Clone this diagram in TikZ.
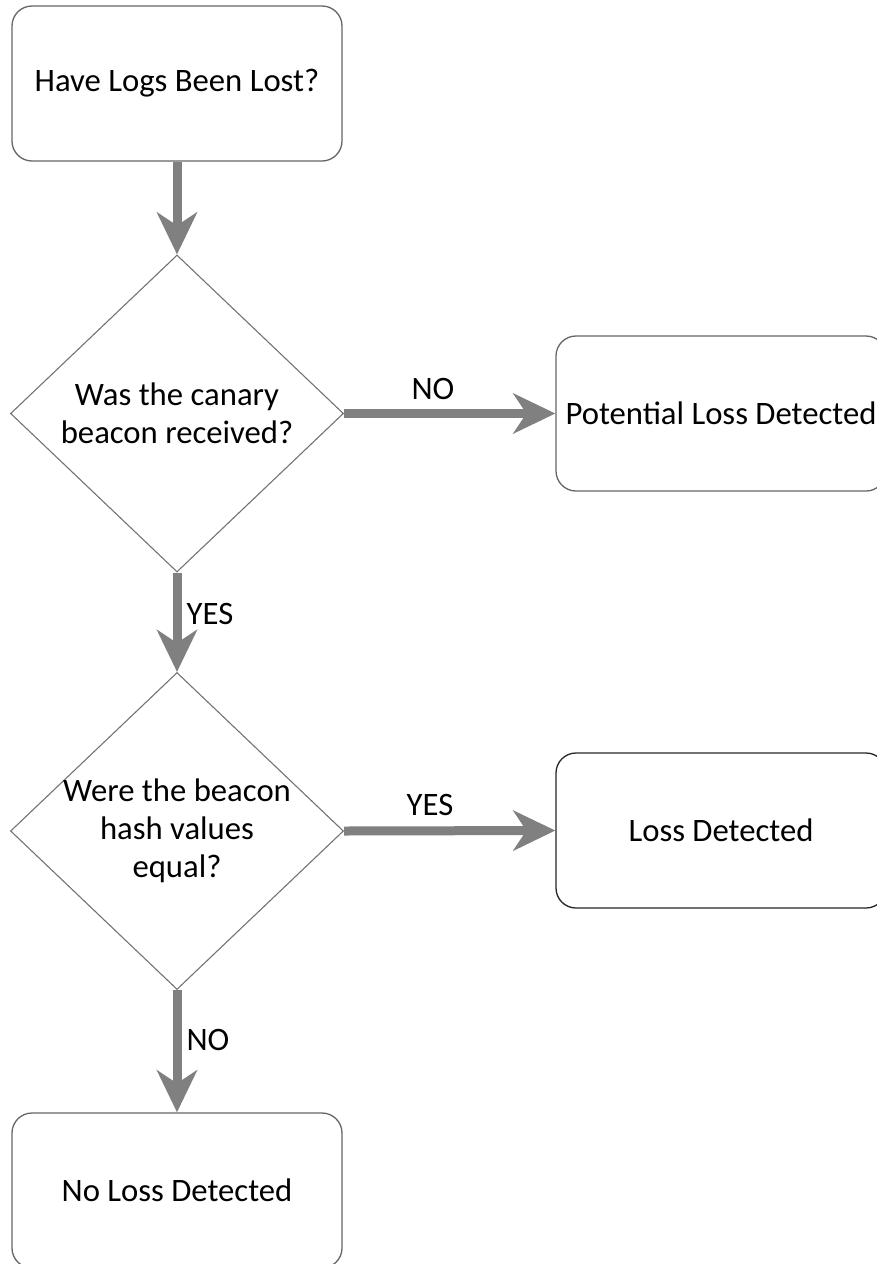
\documentclass[tikz,border=0pt]{standalone}
\usepackage{fontspec}
\setmainfont{Carlito}
\usetikzlibrary{arrows.meta,shapes.geometric}
\begin{document}
\begin{tikzpicture}[x=1pt,y=-1pt,
  every node/.style={font=\fontsize{32.7}{38}\selectfont},
  rbox/.style={draw=black!60,line width=1.3pt,rounded corners=20pt,minimum width=330pt,minimum height=155pt,inner sep=0pt,fill=white},
  dbox/.style={draw=black!55,line width=1.1pt,diamond,minimum width=333pt,minimum height=317pt,inner sep=0pt},
  dtext/.style={align=center,inner sep=0pt},
  flow/.style={draw=black!50,line width=9pt,-{Stealth[length=42pt,width=40pt,inset=13pt]}},
  lab/.style={inner sep=0pt}
]
\clip (0,0) rectangle (877,1264);
\useasboundingbox (0,0) rectangle (877,1264);
\node[rbox] (start) at (177,83.5) {Have Logs Been Lost?};
\node[dbox] (d1) at (177,413.5) {};
\node[dtext] (d1t) at (d1.center) {Was the canary\\beacon received?};
\node[rbox] (pot) at (721,413.5) {Potential Loss Detected};
\node[dbox] (d2) at (177,831) {};
\node[dtext] (d2t) at (d2.center) {Were the beacon\\hash values\\equal?};
\node[rbox,draw=black!85] (loss) at (721,830.5) {Loss Detected};
\node[rbox] (noloss) at (177,1190.5) {No Loss Detected};

\draw[flow] (start.south) -- (d1.north);
\draw[flow] (d1.east) -- (pot.west);
\draw[flow] (d1.south) -- (d2.north);
\draw[flow] (d2.east) -- (loss.west);
\draw[flow] (d2.south) -- (noloss.north);

\node[lab] (l1) at (433,389) {NO};
\node[lab] (l2) at (210,614) {YES};
\node[lab] (l3) at (430,805) {YES};
\node[lab] (l4) at (208,1040) {NO};
\end{tikzpicture}
\end{document}
